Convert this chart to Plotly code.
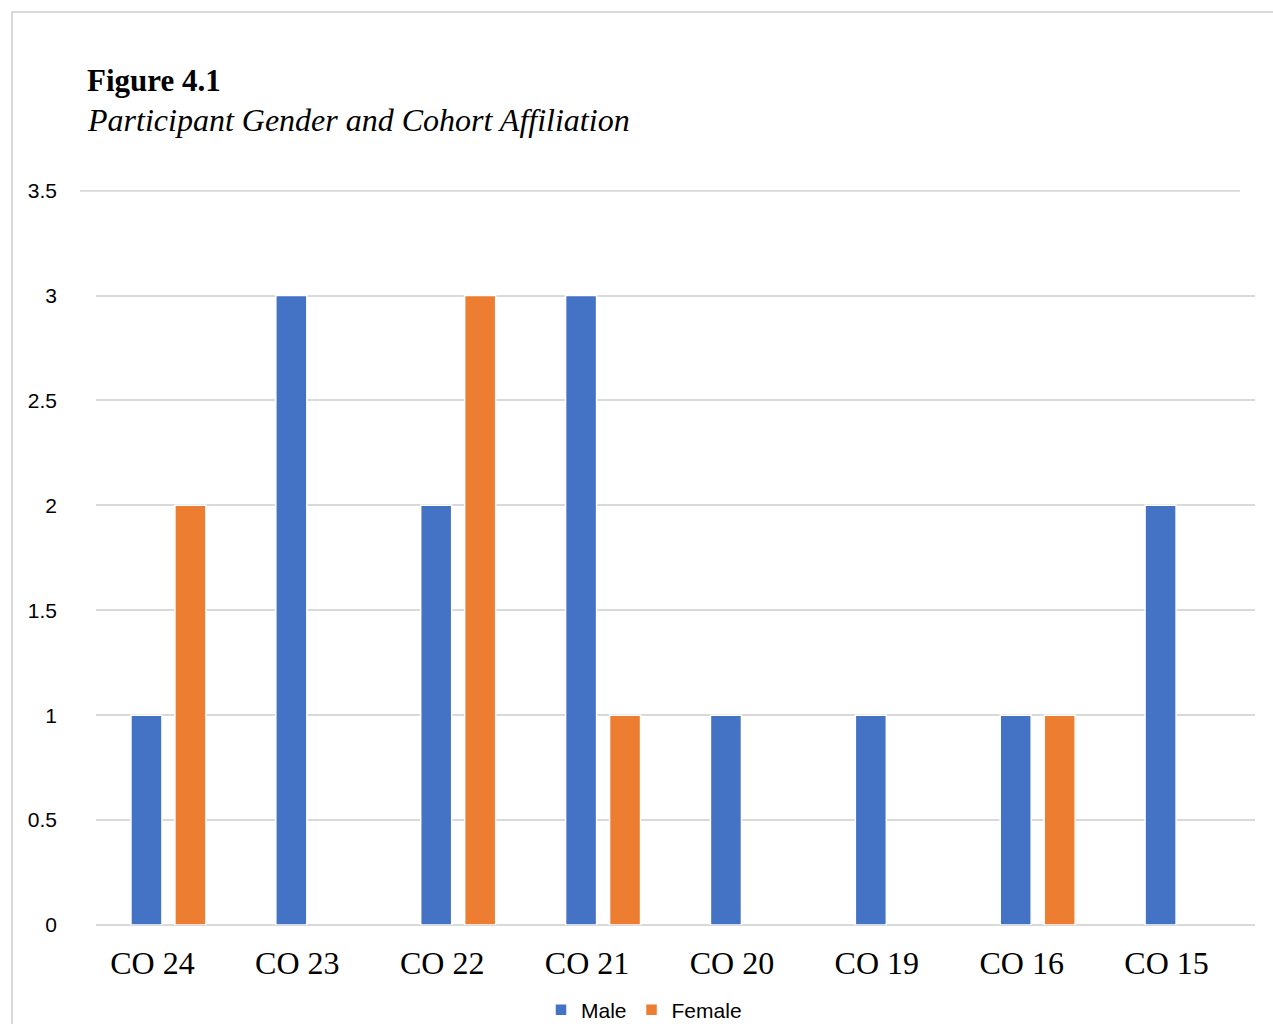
import plotly.graph_objects as go

# Cohort counts by gender
cohorts = ["CO 24", "CO 23", "CO 22", "CO 21", "CO 20", "CO 19", "CO 16", "CO 15"]
male = [1, 3, 2, 3, 1, 1, 1, 2]
female = [2, 0, 3, 1, 0, 0, 1, 0]
y_ticks = [0, 0.5, 1, 1.5, 2, 2.5, 3, 3.5]

W, H = 1273, 1024
L, R, T, B = 96, 18, 190, 99
pw, ph = W - L - R, H - T - B


def px_x(x):
    return (x - L) / pw


def px_y(y):
    return (H - B - y) / ph


def outline(vals):
    # white separator only on bars that have height
    return [1.5 if v else 0 for v in vals]


fig = go.Figure()
fig.add_trace(go.Bar(
    x=cohorts, y=male, name="Male",
    marker=dict(color="#4472C4", line=dict(color="white", width=outline(male))),
))
fig.add_trace(go.Bar(
    x=cohorts, y=female, name="Female",
    marker=dict(color="#ED7D31", line=dict(color="white", width=outline(female))),
))

fig.update_layout(
    width=W, height=H,
    margin=dict(l=L, r=R, t=T, b=B, autoexpand=False),
    paper_bgcolor="white", plot_bgcolor="white",
    barmode="group", bargap=0.393, bargroupgap=0.295,
    showlegend=True,
    legend=dict(
        orientation="h", xref="container", x=644 / W, xanchor="center",
        yref="container", y=1 - 1010 / H, yanchor="middle",
        font=dict(family="Liberation Sans Narrow, Liberation Sans, sans-serif", size=21, color="#000"),
        itemwidth=30, traceorder="normal",
    ),
    font=dict(family="Liberation Sans", color="#000"),
)

fig.update_xaxes(
    showgrid=False, showline=False, zeroline=False, automargin=False,
    ticks="", ticklabelshift=-16, ticklabelstandoff=16,
    tickfont=dict(family="Liberation Serif, Times New Roman, serif", size=32, color="#000"),
)
fig.update_yaxes(
    range=[0, 3.503], tickvals=y_ticks, automargin=False,
    showgrid=True, gridcolor="#d9d9d9", gridwidth=2,
    zeroline=True, zerolinecolor="#d9d9d9", zerolinewidth=2,
    showline=False, ticks="", ticklabelstandoff=38,
    tickfont=dict(family="Liberation Sans Narrow, Liberation Sans, sans-serif", size=21, color="#000"),
)

# Top gridline at the axis maximum
fig.add_shape(
    type="line", xref="paper", yref="y",
    x0=px_x(80), x1=px_x(1240), y0=y_ticks[-1], y1=y_ticks[-1],
    line=dict(color="#d9d9d9", width=2), layer="below",
)

# Outer frame
fig.add_shape(
    type="rect", xref="paper", yref="paper",
    x0=px_x(12), y0=px_y(1100), x1=px_x(1300), y1=px_y(12),
    line=dict(color="#d9d9d9", width=2), fillcolor="rgba(0,0,0,0)",
    layer="below",
)

fig.add_annotation(
    text="<b>Figure 4.1</b>", xref="paper", yref="paper",
    x=px_x(85), y=px_y(81), xanchor="left", yanchor="middle",
    showarrow=False,
    font=dict(family="Liberation Serif, Times New Roman, serif", size=31, color="#000"),
)
fig.add_annotation(
    text="<i>Participant Gender and Cohort Affiliation</i>", xref="paper", yref="paper",
    x=px_x(85), y=px_y(120), xanchor="left", yanchor="middle",
    showarrow=False,
    font=dict(family="Liberation Serif, Times New Roman, serif", size=32, color="#000"),
)

fig.write_html("out.html")
